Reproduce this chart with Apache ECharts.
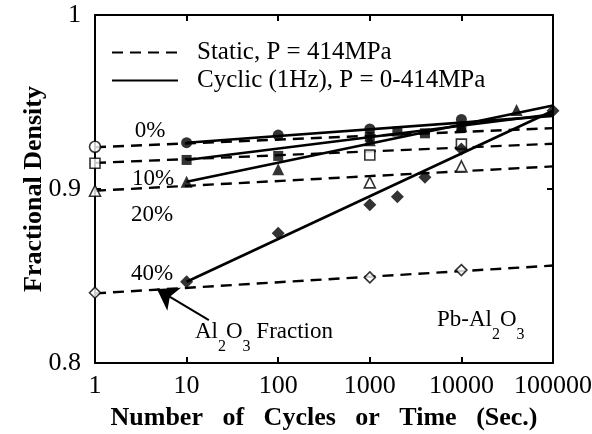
<!DOCTYPE html>
<html>
<head>
<meta charset="utf-8">
<script src="https://cdn.jsdelivr.net/npm/echarts@6/dist/echarts.min.js"></script>
<style>
html,body{margin:0;padding:0;background:#fff;}
#chart{width:592px;height:434px;}
</style>
</head>
<body>
<div id="chart"></div>
<script>
// ---- data ----
const xTicks = [1, 10, 100, 1000, 10000, 100000];
const yTicks = [0.8, 0.9, 1];
const fractionLabels = ['0%', '10%', '20%', '40%'];

// static (dashed) fit lines, from x = 1 to x = 100000
const staticLineX = [1, 100000];
const staticLine0 = [0.924, 0.935];
const staticLine10 = [0.915, 0.926];
const staticLine20 = [0.899, 0.913];
const staticLine40 = [0.840, 0.856];

// static (open) markers
const static0X = [1];
const static0Y = [0.9243];
const static10X = [1, 1000, 10000];
const static10Y = [0.9148, 0.9195, 0.9258];
const static20X = [1, 1000, 10000];
const static20Y = [0.899, 0.9038, 0.913];
const static40X = [1, 1000, 10000];
const static40Y = [0.8404, 0.8492, 0.8534];

// cyclic (solid) fit lines, from x = 10 to x = 100000
const cyclicLineX = [10, 100000];
const cyclicLine0 = [0.9266, 0.942];
const cyclicLine10 = [0.9167, 0.943];
const cyclicLine20 = [0.9042, 0.948];
const cyclicLine40 = [0.8467, 0.945];

// cyclic (filled) markers
const cyclic0X = [10, 100, 1000, 10000];
const cyclic0Y = [0.9266, 0.931, 0.9345, 0.940];
const cyclic10X = [10, 100, 1000, 2000, 4000, 10000];
const cyclic10Y = [0.9167, 0.919, 0.930, 0.933, 0.932, 0.9355];
const cyclic20X = [10, 100, 1000, 10000, 40000];
const cyclic20Y = [0.9042, 0.9113, 0.928, 0.936, 0.9454];
const cyclic40X = [10, 100, 1000, 2000, 4000, 10000, 100000];
const cyclic40Y = [0.8467, 0.8745, 0.891, 0.8956, 0.9067, 0.923, 0.945];

// arrow annotation (data coords: tail -> tip)
const arrowTail = [17.5, 0.8247];
const arrowTip = [4.75, 0.8425];

const legendNames = ['Static, P = 414MPa', 'Cyclic (1Hz), P = 0-414MPa'];

// ---- build ----
const zip = (xs, ys) => xs.map((x, i) => [x, ys[i]]);
const SERIF = 'Liberation Serif';
const BLACK = '#000';

function dashedLine(ys) {
  return {
    type: 'line', data: zip(staticLineX, ys), showSymbol: false, symbol: 'none',
    lineStyle: { color: BLACK, width: 2.4, type: [11, 7] }, silent: true, z: 2
  };
}
function solidLine(ys) {
  return {
    type: 'line', data: zip(cyclicLineX, ys), showSymbol: false, symbol: 'none',
    lineStyle: { color: BLACK, width: 2.6, type: 'solid' }, silent: true, z: 3
  };
}
function openMarks(xs, ys, symbol, size) {
  return {
    type: 'scatter', data: zip(xs, ys), symbol: symbol, symbolSize: size, clip: false,
    itemStyle: { color: '#fff', borderColor: BLACK, borderWidth: 1.6 }, z: 4
  };
}
function filledMarks(xs, ys, symbol, size) {
  return {
    type: 'scatter', data: zip(xs, ys), symbol: symbol, symbolSize: size, clip: false,
    itemStyle: { color: BLACK, borderColor: BLACK, borderWidth: 0 }, z: 5
  };
}

const series = [
  dashedLine(staticLine0), dashedLine(staticLine10), dashedLine(staticLine20), dashedLine(staticLine40),
  solidLine(cyclicLine0), solidLine(cyclicLine10), solidLine(cyclicLine20), solidLine(cyclicLine40),
  openMarks(static0X, static0Y, 'circle', 11),
  openMarks(static10X, static10Y, 'rect', 10),
  openMarks(static20X, static20Y, 'triangle', 11),
  openMarks(static40X, static40Y, 'diamond', 11),
  filledMarks(cyclic0X, cyclic0Y, 'circle', 11),
  filledMarks(cyclic10X, cyclic10Y, 'rect', 10),
  filledMarks(cyclic20X, cyclic20Y, 'triangle', 12),
  filledMarks(cyclic40X, cyclic40Y, 'diamond', 13),
  {
    name: legendNames[0], type: 'line', data: [], symbol: 'none', color: BLACK,
    lineStyle: { color: BLACK, width: 2.4, type: [11, 7] }
  },
  {
    name: legendNames[1], type: 'line', data: [], symbol: 'none', color: BLACK,
    lineStyle: { color: BLACK, width: 2.6, type: 'solid' },
    markLine: {
      silent: true, symbol: ['none', 'arrow'], symbolSize: 20,
      lineStyle: { color: BLACK, width: 2, type: 'solid' },
      label: { show: false },
      data: [[{ coord: arrowTail }, { coord: arrowTip }]]
    }
  }
];

const option = {
  backgroundColor: '#fff',
  animation: false,
  grid: { left: 95, right: 39, top: 15, bottom: 71, containLabel: false, outerBoundsMode: 'none' },
  legend: {
    data: legendNames, orient: 'vertical', left: 106, top: 35,
    itemWidth: 66, itemHeight: 14, itemGap: 3,
    itemStyle: { color: 'rgba(0,0,0,0)', borderWidth: 0, opacity: 0 },
    textStyle: { fontFamily: SERIF, fontSize: 25, color: BLACK, padding: [0, 0, 0, 14] },
    selectedMode: false
  },
  xAxis: [
    {
      type: 'log', logBase: 10, min: 1, max: 100000, position: 'bottom',
      axisLine: { lineStyle: { color: BLACK, width: 2 } },
      axisTick: { inside: true, length: 6, lineStyle: { color: BLACK, width: 2 } },
      axisLabel: { color: BLACK, fontFamily: SERIF, fontSize: 26, margin: 10, hideOverlap: false,
        formatter: v => String(xTicks.find(t => Math.abs(t - v) / t < 1e-6) ?? v) },
      splitLine: { show: false },
      name: 'Number   of   Cycles   or   Time   (Sec.)', nameLocation: 'middle', nameGap: 42,
      nameMoveOverlap: false,
      nameTextStyle: { color: BLACK, fontFamily: SERIF, fontSize: 26, fontWeight: 'bold' }
    },
    {
      type: 'log', logBase: 10, min: 1, max: 100000, position: 'top',
      axisLine: { lineStyle: { color: BLACK, width: 2 } },
      axisTick: { inside: true, length: 6, lineStyle: { color: BLACK, width: 2 } },
      axisLabel: { show: false }, splitLine: { show: false }
    }
  ],
  yAxis: [
    {
      type: 'value', min: 0.8, max: 1, interval: 0.1, position: 'left',
      axisLine: { show: true, lineStyle: { color: BLACK, width: 2 } },
      axisTick: { show: true, inside: true, length: 6, lineStyle: { color: BLACK, width: 2 } },
      axisLabel: { color: BLACK, fontFamily: SERIF, fontSize: 26, margin: 14,
        formatter: v => { const t = yTicks.find(t => Math.abs(t - v) < 1e-6); return t === 1 ? '1' : t.toFixed(1); } },
      splitLine: { show: false },
      name: 'Fractional Density', nameLocation: 'middle', nameGap: 48, nameRotate: 90,
      nameMoveOverlap: false,
      nameTextStyle: { color: BLACK, fontFamily: SERIF, fontSize: 26, fontWeight: 'bold' }
    },
    {
      type: 'value', min: 0.8, max: 1, interval: 0.1, position: 'right',
      axisLine: { show: true, lineStyle: { color: BLACK, width: 2 } },
      axisTick: { show: true, inside: true, length: 6, lineStyle: { color: BLACK, width: 2 } },
      axisLabel: { show: false }, splitLine: { show: false }
    }
  ],
  series: series
};

const chart = echarts.init(document.getElementById('chart'), null, { renderer: 'canvas' });
chart.setOption(option);

// text annotations
const textBase = { fontFamily: SERIF, fontSize: 23, fill: BLACK };
const labelPos = [[150, 131], [153, 179], [152, 215], [152, 274]];
const graphics = fractionLabels.map((t, i) => ({
  type: 'text', x: labelPos[i][0], y: labelPos[i][1],
  style: Object.assign({ text: t, align: 'center', verticalAlign: 'middle' }, textBase), z: 10
}));
const rich = {
  n: { fontFamily: SERIF, fontSize: 23, fill: BLACK, verticalAlign: 'top', padding: [0, 0, 12, 0] },
  s: { fontFamily: SERIF, fontSize: 16, fill: BLACK, verticalAlign: 'bottom' }
};
graphics.push({
  type: 'text', x: 195, y: 320,
  style: { text: '{n|Al}{s|2}{n|O}{s|3}{n| Fraction}', rich: rich, fontFamily: SERIF, fontSize: 23 }, z: 10
});
graphics.push({
  type: 'text', x: 437, y: 308,
  style: { text: '{n|Pb-Al}{s|2}{n|O}{s|3}', rich: rich, fontFamily: SERIF, fontSize: 23 }, z: 10
});
chart.setOption({ graphic: graphics });
</script>
</body>
</html>
